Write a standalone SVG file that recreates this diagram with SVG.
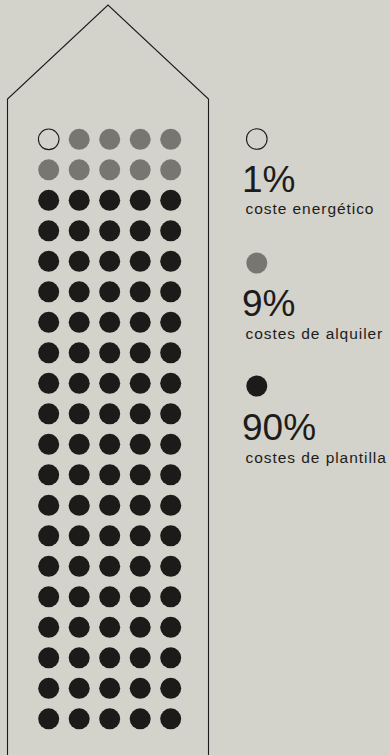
<svg xmlns="http://www.w3.org/2000/svg" width="389" height="755" viewBox="0 0 389 755">
<style>
.bg{fill:#d3d2cb}
.house{fill:none;stroke:#1d1c1a;stroke-width:1.1}
.open{fill:none;stroke:#1d1c1a;stroke-width:1.1}
.gray{fill:#777671}
.black{fill:#1c1b19}
.big{font-family:"Liberation Sans",Arial,sans-serif;font-size:37px;fill:#1d1c1a}
.small{font-family:"Liberation Sans",Arial,sans-serif;font-size:15.5px;letter-spacing:0.95px;fill:#1d1c1a}
</style>
<defs>
<circle id="o" r="10.3" class="open"/>
<circle id="g" r="10.5" class="gray"/>
<circle id="k" r="10.5" class="black"/>
</defs>
<rect class="bg" x="0" y="0" width="389" height="755"/>
<g id="house">
<polyline class="house" points="7.5,756 7.5,99 108,5 208.5,99 208.5,756"/>
</g>
<g id="dots">
<use href="#o" x="48.7" y="139.3"/>
<use href="#g" x="79.2" y="139.3"/><use href="#g" x="109.7" y="139.3"/><use href="#g" x="140.2" y="139.3"/><use href="#g" x="170.7" y="139.3"/>
<use href="#g" x="48.7" y="169.8"/><use href="#g" x="79.2" y="169.8"/><use href="#g" x="109.7" y="169.8"/><use href="#g" x="140.2" y="169.8"/><use href="#g" x="170.7" y="169.8"/>
<g id="blackrows">
<g transform="translate(0,200.3)"><use href="#k" x="48.7"/><use href="#k" x="79.2"/><use href="#k" x="109.7"/><use href="#k" x="140.2"/><use href="#k" x="170.7"/></g>
<g transform="translate(0,230.8)"><use href="#k" x="48.7"/><use href="#k" x="79.2"/><use href="#k" x="109.7"/><use href="#k" x="140.2"/><use href="#k" x="170.7"/></g>
<g transform="translate(0,261.3)"><use href="#k" x="48.7"/><use href="#k" x="79.2"/><use href="#k" x="109.7"/><use href="#k" x="140.2"/><use href="#k" x="170.7"/></g>
<g transform="translate(0,291.8)"><use href="#k" x="48.7"/><use href="#k" x="79.2"/><use href="#k" x="109.7"/><use href="#k" x="140.2"/><use href="#k" x="170.7"/></g>
<g transform="translate(0,322.3)"><use href="#k" x="48.7"/><use href="#k" x="79.2"/><use href="#k" x="109.7"/><use href="#k" x="140.2"/><use href="#k" x="170.7"/></g>
<g transform="translate(0,352.8)"><use href="#k" x="48.7"/><use href="#k" x="79.2"/><use href="#k" x="109.7"/><use href="#k" x="140.2"/><use href="#k" x="170.7"/></g>
<g transform="translate(0,383.3)"><use href="#k" x="48.7"/><use href="#k" x="79.2"/><use href="#k" x="109.7"/><use href="#k" x="140.2"/><use href="#k" x="170.7"/></g>
<g transform="translate(0,413.8)"><use href="#k" x="48.7"/><use href="#k" x="79.2"/><use href="#k" x="109.7"/><use href="#k" x="140.2"/><use href="#k" x="170.7"/></g>
<g transform="translate(0,444.3)"><use href="#k" x="48.7"/><use href="#k" x="79.2"/><use href="#k" x="109.7"/><use href="#k" x="140.2"/><use href="#k" x="170.7"/></g>
<g transform="translate(0,474.8)"><use href="#k" x="48.7"/><use href="#k" x="79.2"/><use href="#k" x="109.7"/><use href="#k" x="140.2"/><use href="#k" x="170.7"/></g>
<g transform="translate(0,505.3)"><use href="#k" x="48.7"/><use href="#k" x="79.2"/><use href="#k" x="109.7"/><use href="#k" x="140.2"/><use href="#k" x="170.7"/></g>
<g transform="translate(0,535.8)"><use href="#k" x="48.7"/><use href="#k" x="79.2"/><use href="#k" x="109.7"/><use href="#k" x="140.2"/><use href="#k" x="170.7"/></g>
<g transform="translate(0,566.3)"><use href="#k" x="48.7"/><use href="#k" x="79.2"/><use href="#k" x="109.7"/><use href="#k" x="140.2"/><use href="#k" x="170.7"/></g>
<g transform="translate(0,596.8)"><use href="#k" x="48.7"/><use href="#k" x="79.2"/><use href="#k" x="109.7"/><use href="#k" x="140.2"/><use href="#k" x="170.7"/></g>
<g transform="translate(0,627.3)"><use href="#k" x="48.7"/><use href="#k" x="79.2"/><use href="#k" x="109.7"/><use href="#k" x="140.2"/><use href="#k" x="170.7"/></g>
<g transform="translate(0,657.8)"><use href="#k" x="48.7"/><use href="#k" x="79.2"/><use href="#k" x="109.7"/><use href="#k" x="140.2"/><use href="#k" x="170.7"/></g>
<g transform="translate(0,688.3)"><use href="#k" x="48.7"/><use href="#k" x="79.2"/><use href="#k" x="109.7"/><use href="#k" x="140.2"/><use href="#k" x="170.7"/></g>
<g transform="translate(0,718.8)"><use href="#k" x="48.7"/><use href="#k" x="79.2"/><use href="#k" x="109.7"/><use href="#k" x="140.2"/><use href="#k" x="170.7"/></g>
</g>
</g>
<g id="legend-energy">
<use href="#o" x="256.8" y="139"/>
<text class="big" x="242" y="191.5">1%</text>
<text class="small" x="245.5" y="214">coste energético</text>
</g>
<g id="legend-rent">
<use href="#g" x="256.8" y="263"/>
<text class="big" x="242" y="316">9%</text>
<text class="small" x="245.5" y="339">costes de alquiler</text>
</g>
<g id="legend-staff">
<use href="#k" x="256.8" y="386"/>
<text class="big" x="242" y="440">90%</text>
<text class="small" x="245.5" y="463">costes de plantilla</text>
</g>
</svg>
